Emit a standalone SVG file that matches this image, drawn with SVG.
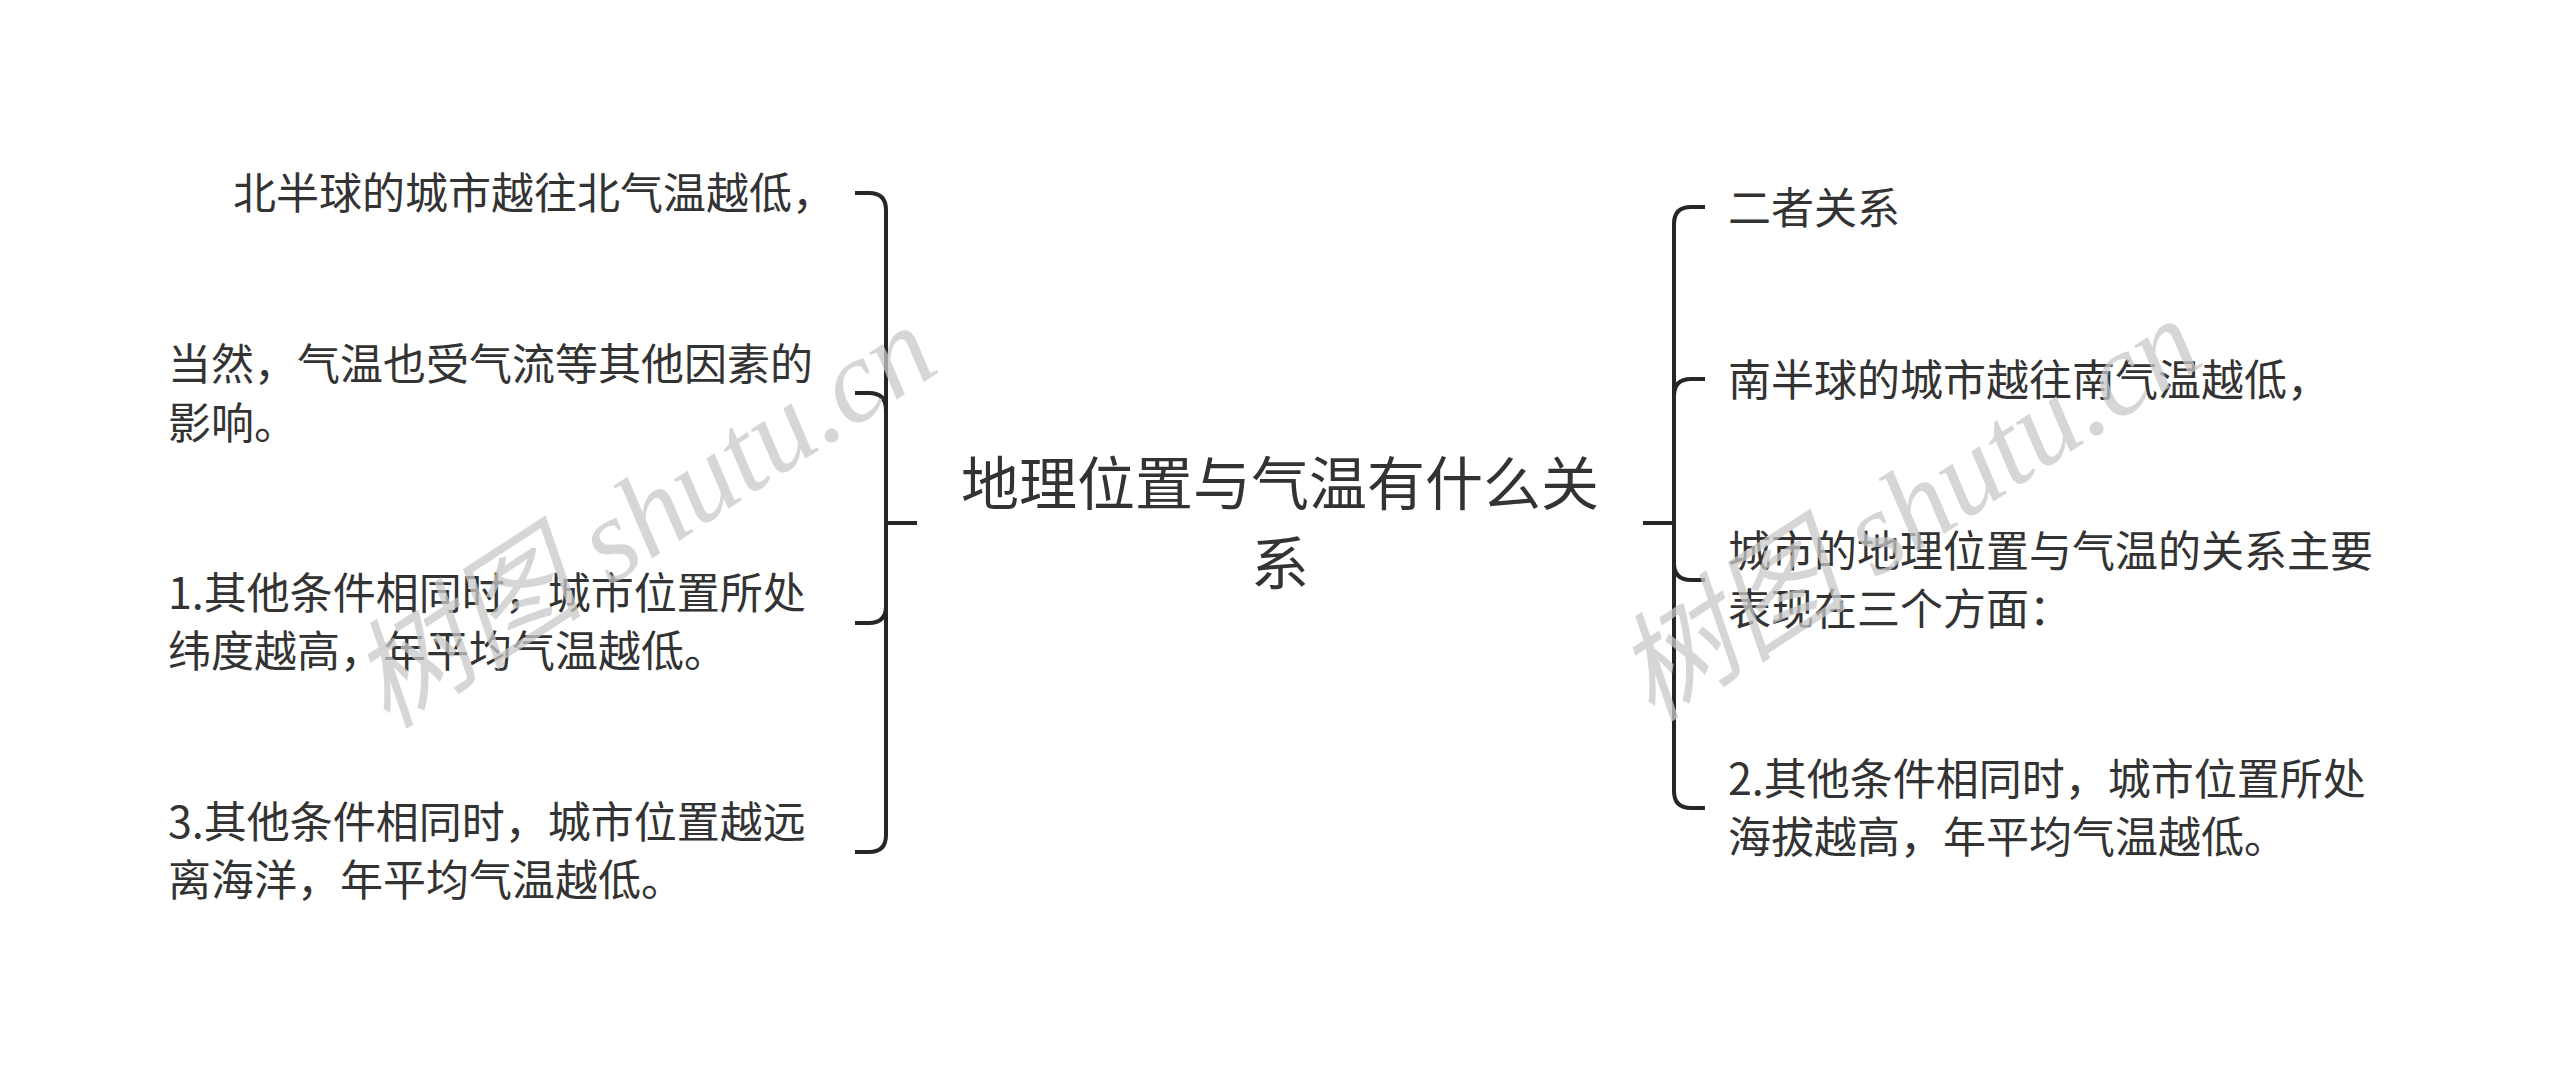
<svg xmlns="http://www.w3.org/2000/svg" width="2560" height="1075" viewBox="0 0 2560 1075">
<style>
.t{font-family:"Noto Sans CJK SC","Noto Sans",sans-serif;font-size:43px;fill:#333333}
.c{font-family:"Noto Sans CJK SC","Noto Sans",sans-serif;font-size:58px;fill:#333333;text-anchor:middle}
.l{fill:none;stroke:#262626;stroke-width:4;stroke-linecap:butt}
.w{font-family:"Liberation Serif","Noto Sans CJK SC",serif;font-style:italic;font-size:118px;fill:#c8c8c8;fill-opacity:0.75;text-anchor:middle}
</style>
<rect width="2560" height="1075" fill="#ffffff"/>
<g id="connectors">
<path class="l" d="M917,523 H886"/>
<path class="l" d="M886,523 V210 Q886,193 869,193 H855"/>
<path class="l" d="M886,523 V410 Q886,393 869,393 H855"/>
<path class="l" d="M886,523 V606 Q886,623 869,623 H855"/>
<path class="l" d="M886,523 V835 Q886,852 869,852 H855"/>
<path class="l" d="M1643,523 H1674"/>
<path class="l" d="M1674,523 V224 Q1674,207 1691,207 H1705"/>
<path class="l" d="M1674,523 V396 Q1674,379 1691,379 H1705"/>
<path class="l" d="M1674,523 V563 Q1674,580 1691,580 H1705"/>
<path class="l" d="M1674,523 V791 Q1674,808 1691,808 H1705"/>
</g>
<g id="root"><text class="c" x="1280" y="505">地理位置与气温有什么关</text><text class="c" x="1280" y="585">系</text></g>
<g id="left1"><text class="t" x="233" y="209">北半球的城市越往北气温越低，</text></g>
<g id="left2"><text class="t" x="168" y="380">当然，气温也受气流等其他因素的</text><text class="t" x="168" y="439">影响。</text></g>
<g id="left3"><text class="t" x="168" y="609">1.其他条件相同时，城市位置所处</text><text class="t" x="168" y="667">纬度越高，年平均气温越低。</text></g>
<g id="left4"><text class="t" x="168" y="838">3.其他条件相同时，城市位置越远</text><text class="t" x="168" y="896">离海洋，年平均气温越低。</text></g>
<g id="right1"><text class="t" x="1728" y="224">二者关系</text></g>
<g id="right2"><text class="t" x="1728" y="396">南半球的城市越往南气温越低，</text></g>
<g id="right3"><text class="t" x="1728" y="567">城市的地理位置与气温的关系主要</text><text class="t" x="1728" y="625">表现在三个方面：</text></g>
<g id="right4"><text class="t" x="1728" y="795">2.其他条件相同时，城市位置所处</text><text class="t" x="1728" y="853">海拔越高，年平均气温越低。</text></g>
<g id="watermark">
<text class="w" transform="translate(665,550) rotate(-33)">树图 shutu.cn</text>
<text class="w" transform="translate(1930,543) rotate(-33)">树图 shutu.cn</text>
</g>
</svg>
